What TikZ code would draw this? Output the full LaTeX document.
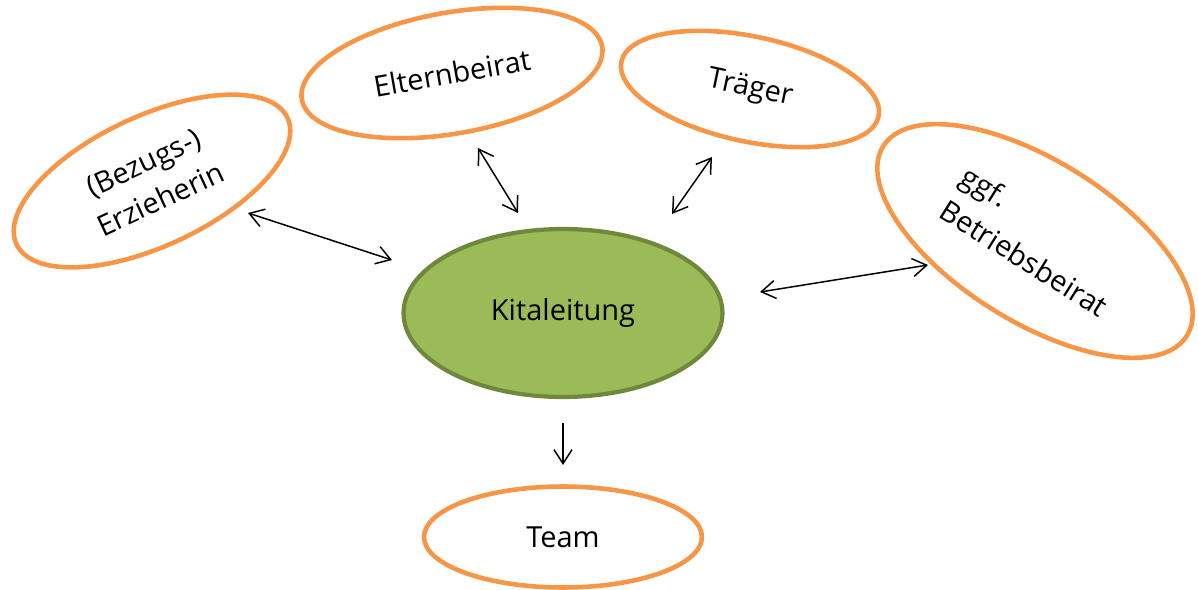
\documentclass[tikz,border=0pt]{standalone}
\usepackage{fontspec}
\setmainfont{Open Sans}
\usetikzlibrary{shapes.geometric,arrows.meta}
\definecolor{orangerand}{HTML}{F79646}
\definecolor{kitagruen}{HTML}{9BBB59}
\definecolor{kitarand}{HTML}{6F883C}
\begin{document}
\begin{tikzpicture}[x=0.02cm, y=-0.02cm,
    >={Straight Barb[length=0.28cm, width=0.36cm]},
    partner/.style = {shape=ellipse, draw=orangerand,
      line width=2.6pt, inner sep=0pt, align=center,
      font=\fontsize{16.5}{23}\selectfont},
    leitung/.style = {shape=ellipse, draw=kitarand, fill=kitagruen,
      line width=2.4pt, inner sep=0pt,
      font=\fontsize{16.5}{23}\selectfont},
    pfeil/.style = {line width=0.85pt}]
    \useasboundingbox (0,0) rectangle (1198,589);
    % Mitte
    \node[leitung, minimum width=6.38cm, minimum height=3.36cm] (kita) at (563,313) {Kitaleitung};
    % Partner rundherum
    \node[partner, rotate=25, minimum width=5.98cm, minimum height=2.6cm] (erz) at (152,181) {(Bezugs-)\\Erzieherin};
    \node[partner, rotate=10, minimum width=6.1cm, minimum height=2.42cm] (eltern) at (452,73) {Elternbeirat};
    \node[partner, rotate=-12, minimum width=5.26cm, minimum height=2.1cm] (traeger) at (750,89) {Träger};
    \node[partner, rotate=-32, align=left, minimum width=7.16cm, minimum height=3.22cm] (betrieb) at (1035,241) {ggf.\\Betriebsbeirat};
    \node[partner, minimum width=5.56cm, minimum height=2.02cm] (team) at (563,537) {Team};
    % Pfeilenden
    \coordinate (erz-a) at (248,213);
    \coordinate (erz-b) at (392,260);
    \coordinate (eltern-a) at (478,148);
    \coordinate (eltern-b) at (518,213);
    \coordinate (traeger-a) at (712,157);
    \coordinate (traeger-b) at (672,214);
    \coordinate (betrieb-a) at (928,265);
    \coordinate (betrieb-b) at (760,292);
    \coordinate (team-a) at (563,423);
    \coordinate (team-b) at (563,465);
    \draw[pfeil, <->] (erz-a) -- (erz-b);
    \draw[pfeil, <->] (eltern-a) -- (eltern-b);
    \draw[pfeil, <->] (traeger-a) -- (traeger-b);
    \draw[pfeil, <->] (betrieb-a) -- (betrieb-b);
    \draw[pfeil, ->] (team-a) -- (team-b);
\end{tikzpicture}
\end{document}
